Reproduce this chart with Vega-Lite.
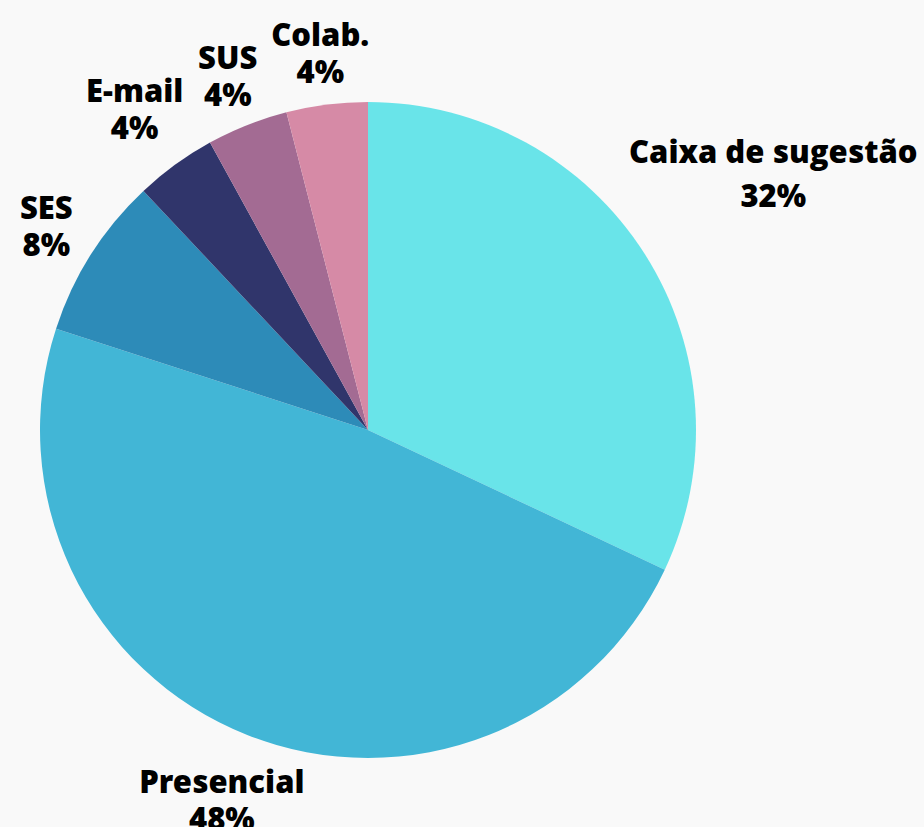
{
  "$schema": "https://vega.github.io/schema/vega-lite/v6.json",
  "autosize": "none",
  "width": 736,
  "height": 794,
  "padding": {"left": 0, "top": 33, "right": 188, "bottom": 0},
  "background": "#f9f9f9",
  "view": {"stroke": null},
  "config": {
    "text": {
      "font": "Open Sans ExtraBold, Open Sans",
      "fontWeight": 800,
      "fontSize": 31,
      "lineBreak": "\n",
      "align": "center",
      "baseline": "middle",
      "color": "#000000"
    }
  },
  "data": {
    "values": [
      {"category": "Caixa de sugestão", "value": 32},
      {"category": "Presencial", "value": 48},
      {"category": "SES", "value": 8},
      {"category": "E-mail", "value": 4},
      {"category": "SUS", "value": 4},
      {"category": "Colab.", "value": 4}
    ]
  },
  "transform": [
    {"window": [{"op": "row_number", "as": "rank"}]},
    {"stack": "value", "groupby": [], "sort": [{"field": "rank", "order": "ascending"}], "as": ["v0", "v1"]},
    {"calculate": "(datum.v0 + datum.v1) / 2", "as": "mid"},
    {"calculate": "datum.category + '\\n' + datum.value + '%'", "as": "label"}
  ],
  "layer": [
    {
      "mark": {"type": "arc", "outerRadius": 328, "stroke": null},
      "encoding": {
        "theta": {"field": "v0", "type": "quantitative", "scale": {"domain": [0, 100]}},
        "theta2": {"field": "v1"},
        "color": {
          "field": "category",
          "type": "nominal",
          "legend": null,
          "scale": {
            "domain": ["Caixa de sugestão", "Presencial", "SES", "E-mail", "SUS", "Colab."],
            "range": ["#69e4e9", "#42b6d6", "#2d8bb8", "#30356b", "#a36b93", "#d68aa6"]
          }
        }
      }
    },
    {
      "transform": [{"filter": "datum.category == 'SES' || datum.category == 'SUS' || datum.category == 'Colab.'"}],
      "mark": {"type": "text", "radius": 381, "lineHeight": 37, "dy": -15.5},
      "encoding": {
        "theta": {"field": "mid", "type": "quantitative", "scale": {"domain": [0, 100]}},
        "text": {"field": "label", "type": "nominal"}
      }
    },
    {
      "transform": [{"filter": "datum.category == 'E-mail' || datum.category == 'Presencial'"}],
      "mark": {"type": "text", "radius": 397, "lineHeight": 37, "dy": -15.5},
      "encoding": {
        "theta": {"field": "mid", "type": "quantitative", "scale": {"domain": [0, 100]}},
        "text": {"field": "label", "type": "nominal"}
      }
    },
    {
      "transform": [{"filter": "datum.category == 'Caixa de sugestão'"}],
      "mark": {"type": "text", "radius": 480, "lineHeight": 44, "dy": -19},
      "encoding": {
        "theta": {"field": "mid", "type": "quantitative", "scale": {"domain": [0, 100]}},
        "text": {"field": "label", "type": "nominal"}
      }
    }
  ]
}
